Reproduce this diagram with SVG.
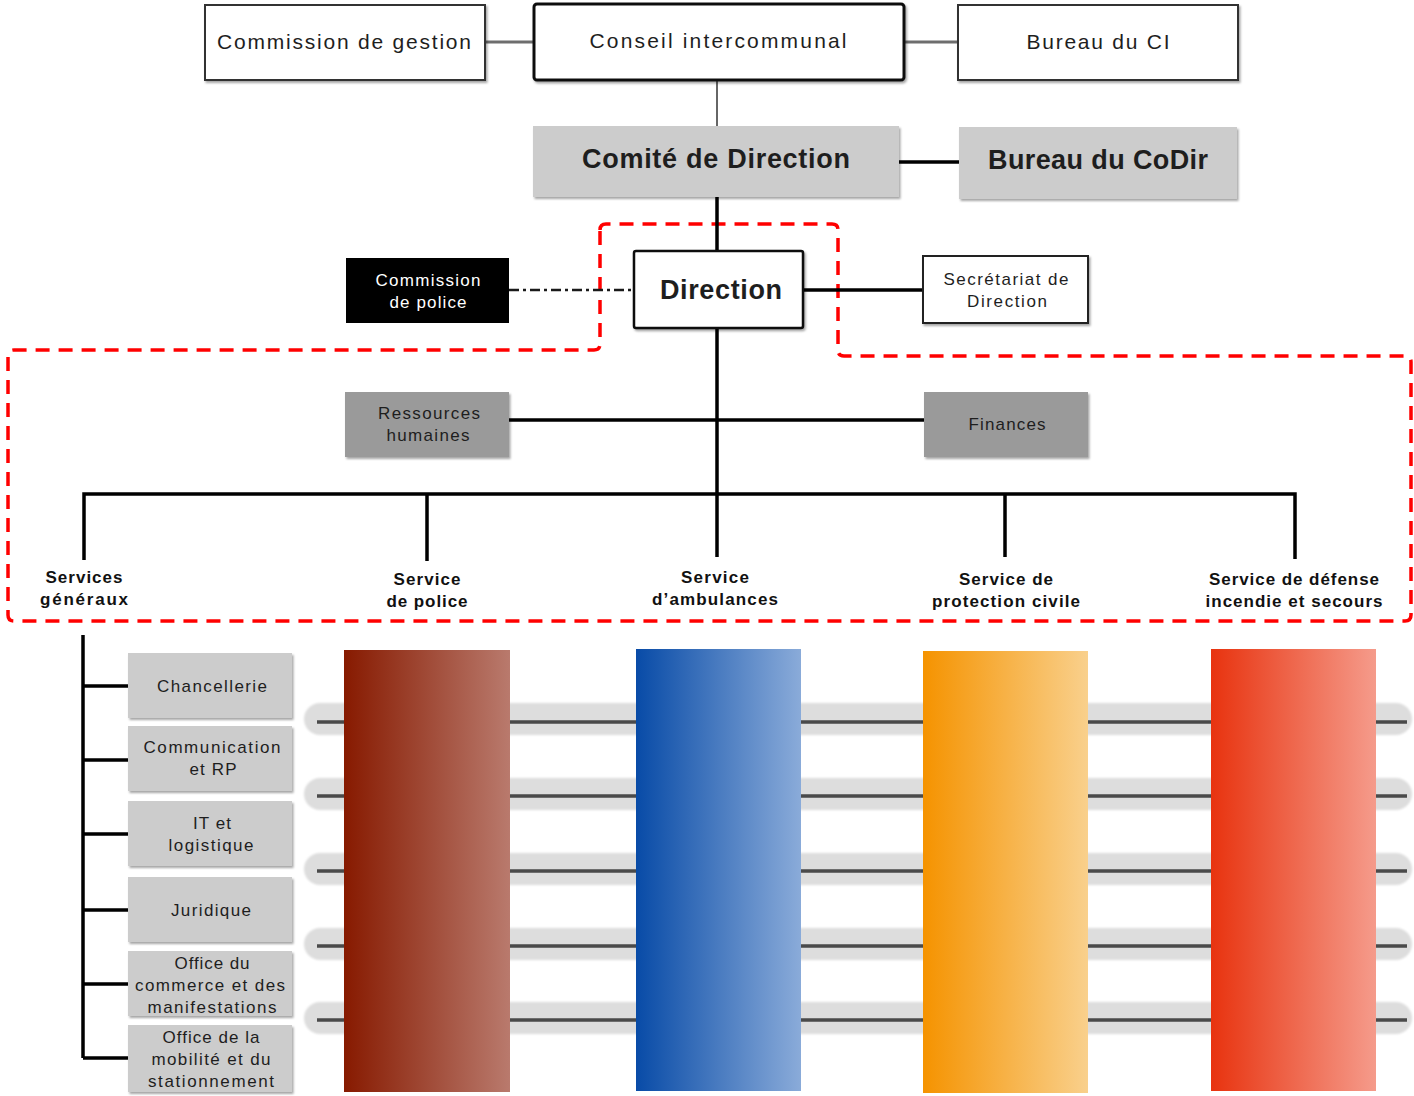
<svg xmlns="http://www.w3.org/2000/svg" width="1414" height="1096" viewBox="0 0 1414 1096">
<defs>
<style>
text{font-family:"Liberation Sans","DejaVu Sans",sans-serif;fill:#1e1e1e;text-anchor:middle;}
.t21{font-size:21px;}
.b27{font-size:27px;font-weight:bold;}
.t17{font-size:17px;}
.b17{font-size:17px;font-weight:bold;fill:#111;}
.w{fill:#fff;}
.wbox{fill:#fff;stroke:#333;stroke-width:2;}
.g1{fill:#cccccc;}
.g2{fill:#9a9a9a;}
.blk{stroke:#000;fill:none;stroke-width:3.5;}
.gl{stroke:#6e6e6e;fill:none;stroke-width:3;}
.band{fill:#dddddd;}
.bl{stroke:#4a4a4a;stroke-width:3.5;fill:none;}
</style>
<filter id="sh" x="-5%" y="-5%" width="115%" height="125%">
<feDropShadow dx="1.5" dy="2" stdDeviation="1" flood-color="#000" flood-opacity="0.35"/>
</filter>
<filter id="blur" x="-2%" y="-50%" width="104%" height="200%">
<feGaussianBlur stdDeviation="1.2"/>
</filter>
<linearGradient id="gBrown" x1="0" x2="1" y1="0" y2="0"><stop offset="0" stop-color="#871a00"/><stop offset="1" stop-color="#b97a6d"/></linearGradient>
<linearGradient id="gBlue" x1="0" x2="1" y1="0" y2="0"><stop offset="0" stop-color="#084ba7"/><stop offset="1" stop-color="#8aabd9"/></linearGradient>
<linearGradient id="gOrange" x1="0" x2="1" y1="0" y2="0"><stop offset="0" stop-color="#f59300"/><stop offset="1" stop-color="#f9d08c"/></linearGradient>
<linearGradient id="gRed" x1="0" x2="1" y1="0" y2="0"><stop offset="0" stop-color="#e8330f"/><stop offset="1" stop-color="#f59b8b"/></linearGradient>
</defs>
<rect width="1414" height="1096" fill="#fff"/>

<!-- bands behind the columns -->
<g id="bands">
<g filter="url(#blur)">
<rect class="band" x="304" y="703" width="1108" height="32" rx="16"/>
<rect class="band" x="304" y="778" width="1108" height="32" rx="16"/>
<rect class="band" x="304" y="853" width="1108" height="32" rx="16"/>
<rect class="band" x="304" y="928" width="1108" height="32" rx="16"/>
<rect class="band" x="304" y="1002" width="1108" height="32" rx="16"/>
</g>
<path class="bl" d="M317 722H1407M317 796H1407M317 871H1407M317 946H1407M317 1020H1407"/>
</g>

<!-- red dashed outline -->
<path id="outline" d="M600 230Q600 224 606 224L832 224Q838 224 838 230L838 350Q838 356 844 356L1405 356Q1411 356 1411 362L1411 615Q1411 621 1405 621L14 621Q8 621 8 615L8 356Q8 350 14 350L594 350Q600 350 600 344Z" fill="none" stroke="#ff0000" stroke-width="3.5" stroke-dasharray="14 9"/>

<g id="connectors">
<path class="gl" d="M485 42H534M904 42H958"/>
<path d="M717 80V126" stroke="#666" stroke-width="2" fill="none"/>
<path class="blk" d="M899 162H959" stroke-width="4"/>
<path class="blk" d="M717 197V250" stroke-width="3"/>
<path d="M509 290H634" stroke="#1a1a1a" stroke-width="2.5" stroke-dasharray="10 4 3 4" fill="none"/>
<path class="blk" d="M803 290H923" stroke-width="3"/>
<path class="blk" d="M717 328V557" stroke-width="3.5"/>
<path class="blk" d="M509 420H924" stroke-width="3.5"/>
<path class="blk" d="M84 560V494H1295V559M427 494V561M1005 494V557" stroke-width="3.5"/>
<path class="blk" d="M83 635V1058M83 686H128M83 760H128M83 834H128M83 910H128M83 984H128M83 1058H128" stroke-width="4"/>
</g>

<g id="n-commission-gestion">
<rect class="wbox" x="205" y="5" width="280" height="75" filter="url(#sh)"/>
<text class="t21" x="344" y="49" textLength="254">Commission de gestion</text>
</g>
<g id="n-conseil">
<rect x="534" y="4" width="370" height="76" rx="3" fill="#fff" stroke="#111" stroke-width="3" filter="url(#sh)"/>
<text class="t21" x="718" y="48" textLength="257">Conseil intercommunal</text>
</g>
<g id="n-bureau-ci">
<rect class="wbox" x="958" y="5" width="280" height="75" filter="url(#sh)"/>
<text class="t21" x="1098" y="49" textLength="143">Bureau du CI</text>
</g>
<g id="n-comite">
<rect class="g1" x="533" y="126" width="366" height="71" filter="url(#sh)"/>
<text class="b27" x="716" y="168" textLength="268">Comité de Direction</text>
</g>
<g id="n-bureau-codir">
<rect class="g1" x="959" y="127" width="278" height="72" filter="url(#sh)"/>
<text class="b27" x="1098" y="169" textLength="220">Bureau du CoDir</text>
</g>
<g id="n-direction">
<rect x="634" y="251" width="169" height="77" rx="2" fill="#fff" stroke="#111" stroke-width="2.5" filter="url(#sh)"/>
<text class="b27" x="721" y="299" textLength="122">Direction</text>
</g>
<g id="n-commission-police">
<rect x="346" y="258" width="163" height="65" fill="#000"/>
<text class="t17 w" x="428" y="286" textLength="105">Commission</text>
<text class="t17 w" x="428" y="308" textLength="77">de police</text>
</g>
<g id="n-secretariat">
<rect x="923" y="256" width="165" height="67" fill="#fff" stroke="#222" stroke-width="2" filter="url(#sh)"/>
<text class="t17" x="1006" y="285" textLength="125">Secrétariat de</text>
<text class="t17" x="1007" y="307" textLength="80">Direction</text>
</g>
<g id="n-rh">
<rect class="g2" x="345" y="392" width="164" height="65" filter="url(#sh)"/>
<text class="t17" x="429" y="419" textLength="102">Ressources</text>
<text class="t17" x="428" y="441" textLength="83">humaines</text>
</g>
<g id="n-finances">
<rect class="g2" x="924" y="392" width="164" height="65" filter="url(#sh)"/>
<text class="t17" x="1007" y="430" textLength="77">Finances</text>
</g>

<g id="n-services-generaux">
<text class="b17" x="84" y="583" textLength="77">Services</text>
<text class="b17" x="84" y="605" textLength="88">généraux</text>
</g>
<g id="n-service-police">
<text class="b17" x="427" y="585" textLength="67">Service</text>
<text class="b17" x="427" y="607" textLength="81">de police</text>
</g>
<g id="n-service-ambulances">
<text class="b17" x="715" y="583" textLength="68">Service</text>
<text class="b17" x="715" y="605" textLength="126">d’ambulances</text>
</g>
<g id="n-service-protection">
<text class="b17" x="1006" y="585" textLength="94">Service de</text>
<text class="b17" x="1006" y="607" textLength="148">protection civile</text>
</g>
<g id="n-service-defense">
<text class="b17" x="1294" y="585" textLength="170">Service de défense</text>
<text class="b17" x="1294" y="607" textLength="177">incendie et secours</text>
</g>

<g id="n-chancellerie">
<rect class="g1" x="128" y="653" width="164" height="65" filter="url(#sh)"/>
<text class="t17" x="212" y="692" textLength="110">Chancellerie</text>
</g>
<g id="n-communication">
<rect class="g1" x="128" y="726" width="164" height="65" filter="url(#sh)"/>
<text class="t17" x="212" y="753" textLength="137">Communication</text>
<text class="t17" x="213" y="775" textLength="47">et RP</text>
</g>
<g id="n-it">
<rect class="g1" x="128" y="801" width="164" height="65" filter="url(#sh)"/>
<text class="t17" x="212" y="829" textLength="38">IT et</text>
<text class="t17" x="211" y="851" textLength="85">logistique</text>
</g>
<g id="n-juridique">
<rect class="g1" x="128" y="877" width="164" height="65" filter="url(#sh)"/>
<text class="t17" x="211" y="916" textLength="80">Juridique</text>
</g>
<g id="n-office-commerce">
<rect class="g1" x="128" y="951" width="164" height="65" filter="url(#sh)"/>
<text class="t17" x="212" y="969" textLength="75">Office du</text>
<text class="t17" x="210" y="991" textLength="150">commerce et des</text>
<text class="t17" x="212" y="1013" textLength="129">manifestations</text>
</g>
<g id="n-office-mobilite">
<rect class="g1" x="128" y="1025" width="164" height="67" filter="url(#sh)"/>
<text class="t17" x="211" y="1043" textLength="97">Office de la</text>
<text class="t17" x="211" y="1065" textLength="119">mobilité et du</text>
<text class="t17" x="211" y="1087" textLength="126">stationnement</text>
</g>

<g id="columns">
<rect id="col-police" x="344" y="650" width="166" height="442" fill="url(#gBrown)"/>
<rect id="col-ambulances" x="636" y="649" width="165" height="442" fill="url(#gBlue)"/>
<rect id="col-protection" x="923" y="651" width="165" height="442" fill="url(#gOrange)"/>
<rect id="col-defense" x="1211" y="649" width="165" height="442" fill="url(#gRed)"/>
</g>
</svg>
